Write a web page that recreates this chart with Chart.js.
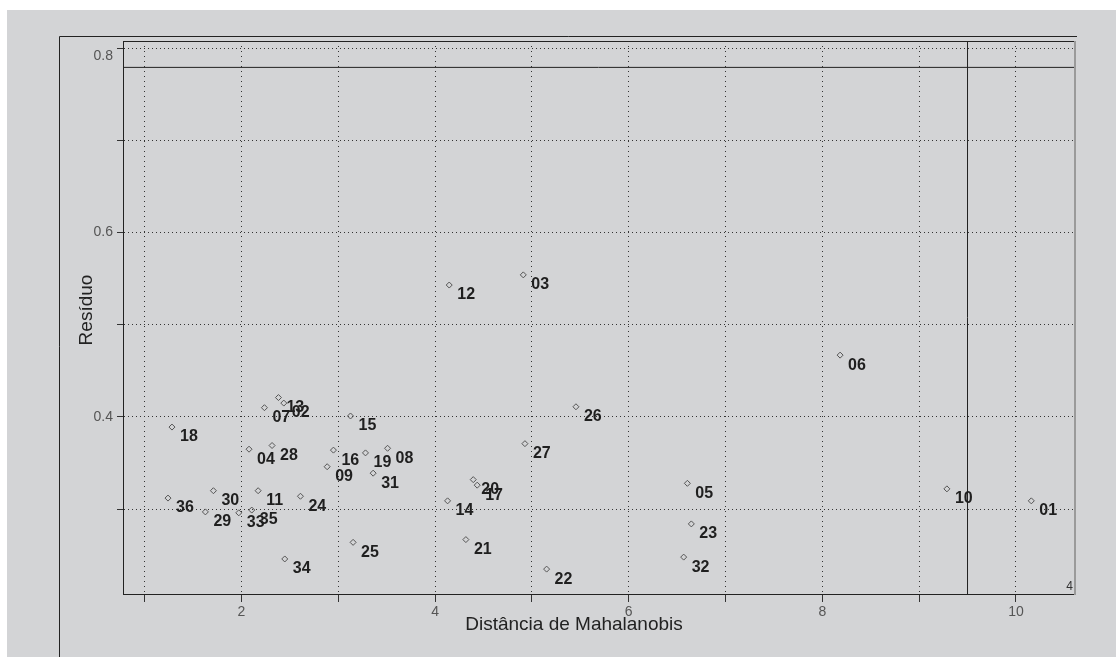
<!DOCTYPE html>
<html>
<head>
<meta charset="utf-8">
<title>Resíduo x Distância de Mahalanobis</title>
<style>
  html, body { margin: 0; padding: 0; background: #ffffff; }
  canvas { display: block; }
</style>
<script src="https://cdn.jsdelivr.net/npm/chart.js@4.4.1/dist/chart.umd.min.js"></script>
</head>
<body>
<canvas id="chart" width="1116" height="657"></canvas>
<script>
// Observation identifiers, in data order
const POINT_IDS = ['01','02','03','04','05','06','07','08','09','10','11','12',
                   '13','14','15','16','17','18','19','20','21','22','23','24',
                   '25','26','27','28','29','30','31','32','33','34','35','36'];

// Mahalanobis distance of each observation
const MAHALANOBIS = [10.159, 2.437, 4.911, 2.078, 6.606, 8.184, 2.237, 3.509, 2.885, 9.287, 2.172, 4.146,
                     2.382, 4.129, 3.126, 2.950, 4.435, 1.282, 3.281, 4.394, 4.318, 5.152, 6.647, 2.609,
                     3.153, 5.455, 4.928, 2.316, 1.627, 1.710, 3.360, 6.568, 1.972, 2.447, 2.106, 1.241];

// Residual of each observation
const RESIDUALS = [0.309, 0.415, 0.554, 0.365, 0.328, 0.467, 0.410, 0.366, 0.346, 0.322, 0.320, 0.543,
                   0.421, 0.309, 0.401, 0.364, 0.326, 0.389, 0.361, 0.332, 0.267, 0.235, 0.284, 0.314,
                   0.264, 0.411, 0.371, 0.369, 0.297, 0.320, 0.339, 0.248, 0.296, 0.246, 0.299, 0.312];

// Axis ticks and their labels
const X_TICKS = [1, 2, 3, 4, 5, 6, 7, 8, 9, 10];
const X_TICK_LABELS = ['', '2', '', '4', '', '6', '', '8', '', '10'];
const Y_TICKS = [0.3, 0.4, 0.5, 0.6, 0.7, 0.8];
const Y_TICK_LABELS = ['', '0.4', '', '0.6', '', '0.8'];

// Axis extents
const X_RANGE = [0.776, 10.6];
const Y_RANGE = [0.208, 0.8076];

// Cut-off lines
const CUTOFF_DISTANCE = 9.5;
const CUTOFF_RESIDUAL = 0.779;

const PANEL_GRAY = '#d3d4d6';
const INK = '#1f1f1f';

const points = MAHALANOBIS.map((x, i) => ({ x: x, y: RESIDUALS[i] }));

// Page background and the outer frame
const backdrop = {
  id: 'backdrop',
  beforeDraw(chart) {
    const ctx = chart.ctx;
    ctx.save();
    ctx.fillStyle = '#ffffff';
    ctx.fillRect(0, 0, chart.width, chart.height);
    ctx.fillStyle = PANEL_GRAY;
    ctx.fillRect(7, 10, chart.width - 7, chart.height - 10);
    ctx.strokeStyle = '#222222';
    ctx.lineWidth = 1;
    ctx.beginPath();
    ctx.moveTo(59.5, chart.height);
    ctx.lineTo(59.5, 36.5);
    ctx.lineTo(1077, 36.5);
    ctx.stroke();
    ctx.restore();
  }
};

// Top and right edges of the plotting box
const plotFrame = {
  id: 'plotFrame',
  afterDraw(chart) {
    const a = chart.chartArea;
    const ctx = chart.ctx;
    ctx.save();
    ctx.strokeStyle = '#222222';
    ctx.lineWidth = 1;
    ctx.beginPath();
    ctx.moveTo(a.left, Math.floor(a.top) + 0.5);
    ctx.lineTo(a.right + 1, Math.floor(a.top) + 0.5);
    ctx.stroke();
    ctx.strokeStyle = '#9a9a9a';
    ctx.lineWidth = 2;
    ctx.beginPath();
    ctx.moveTo(Math.round(a.right) + 1, a.top);
    ctx.lineTo(Math.round(a.right) + 1, a.bottom + 1);
    ctx.stroke();
    ctx.restore();
  }
};

// Observation numbers next to each marker
const pointLabels = {
  id: 'pointLabels',
  afterDatasetsDraw(chart) {
    const meta = chart.getDatasetMeta(0);
    const ctx = chart.ctx;
    ctx.save();
    ctx.font = 'bold 16px "Liberation Sans", Arial, sans-serif';
    ctx.fillStyle = INK;
    ctx.textAlign = 'left';
    ctx.textBaseline = 'middle';
    meta.data.forEach((pt, i) => {
      ctx.fillText(POINT_IDS[i], pt.x + 8, pt.y + 10);
    });
    ctx.restore();
  }
};

// Axis titles and the panel number
const axisTitles = {
  id: 'axisTitles',
  afterDraw(chart) {
    const ctx = chart.ctx;
    ctx.save();
    ctx.fillStyle = '#222222';
    ctx.font = '19px "Liberation Sans", Arial, sans-serif';
    ctx.textAlign = 'center';
    ctx.textBaseline = 'middle';
    ctx.fillText('Distância de Mahalanobis', 574, 625);
    ctx.translate(87, 310);
    ctx.rotate(-Math.PI / 2);
    ctx.fillText('Resíduo', 0, 0);
    ctx.restore();

    ctx.save();
    ctx.fillStyle = '#333333';
    ctx.font = '12px "Liberation Sans", Arial, sans-serif';
    ctx.textAlign = 'right';
    ctx.textBaseline = 'alphabetic';
    ctx.fillText('4', chart.chartArea.right - 1, chart.chartArea.bottom - 4);
    ctx.restore();
  }
};

const tickFont = { family: '"Liberation Sans Narrow", "Liberation Sans", Arial, sans-serif', size: 14 };

new Chart(document.getElementById('chart'), {
  type: 'scatter',
  data: {
    datasets: [
      {
        label: 'Observações',
        data: points,
        pointStyle: 'rectRot',
        pointRadius: 3,
        pointHoverRadius: 3,
        pointBorderWidth: 1,
        pointBorderColor: '#555555',
        pointBackgroundColor: 'rgba(0,0,0,0)',
        showLine: false
      },
      {
        label: 'Limite do resíduo',
        data: [{ x: X_RANGE[0], y: CUTOFF_RESIDUAL }, { x: X_RANGE[1], y: CUTOFF_RESIDUAL }],
        showLine: true,
        borderColor: '#222222',
        borderWidth: 1,
        pointRadius: 0
      },
      {
        label: 'Limite da distância',
        data: [{ x: CUTOFF_DISTANCE, y: Y_RANGE[0] }, { x: CUTOFF_DISTANCE, y: Y_RANGE[1] }],
        showLine: true,
        borderColor: '#222222',
        borderWidth: 1,
        pointRadius: 0
      }
    ]
  },
  options: {
    responsive: false,
    animation: false,
    devicePixelRatio: 1,
    layout: { padding: { top: 41, right: 42, left: 0, bottom: 0 } },
    plugins: {
      legend: { display: false },
      tooltip: { enabled: false }
    },
    scales: {
      x: {
        type: 'linear',
        min: X_RANGE[0],
        max: X_RANGE[1],
        afterBuildTicks(scale) { scale.ticks = X_TICKS.map(v => ({ value: v })); },
        afterFit(scale) { scale.height = 63; },
        ticks: {
          autoSkip: false,
          maxRotation: 0,
          padding: 2,
          color: '#555555',
          font: tickFont,
          callback: (v, i) => X_TICK_LABELS[i]
        },
        grid: {
          color: '#333333',
          lineWidth: 1,
          tickLength: 8,
          tickColor: '#333333'
        },
        border: { display: true, color: '#222222', width: 1, dash: [1, 4] }
      },
      y: {
        type: 'linear',
        min: Y_RANGE[0],
        max: Y_RANGE[1],
        afterBuildTicks(scale) { scale.ticks = Y_TICKS.map(v => ({ value: v })); },
        afterFit(scale) { scale.width = 123; },
        ticks: {
          autoSkip: false,
          padding: 4,
          color: '#555555',
          font: tickFont,
          // the topmost label sits just below its tick, clear of the frame
          callback: (v, i) => (i === Y_TICKS.length - 1 ? ['', Y_TICK_LABELS[i]] : Y_TICK_LABELS[i])
        },
        grid: {
          color: '#333333',
          lineWidth: 1,
          tickLength: 6,
          tickColor: '#333333'
        },
        border: { display: true, color: '#222222', width: 1, dash: [1, 3] }
      }
    }
  },
  plugins: [backdrop, plotFrame, pointLabels, axisTitles]
});
</script>
</body>
</html>
